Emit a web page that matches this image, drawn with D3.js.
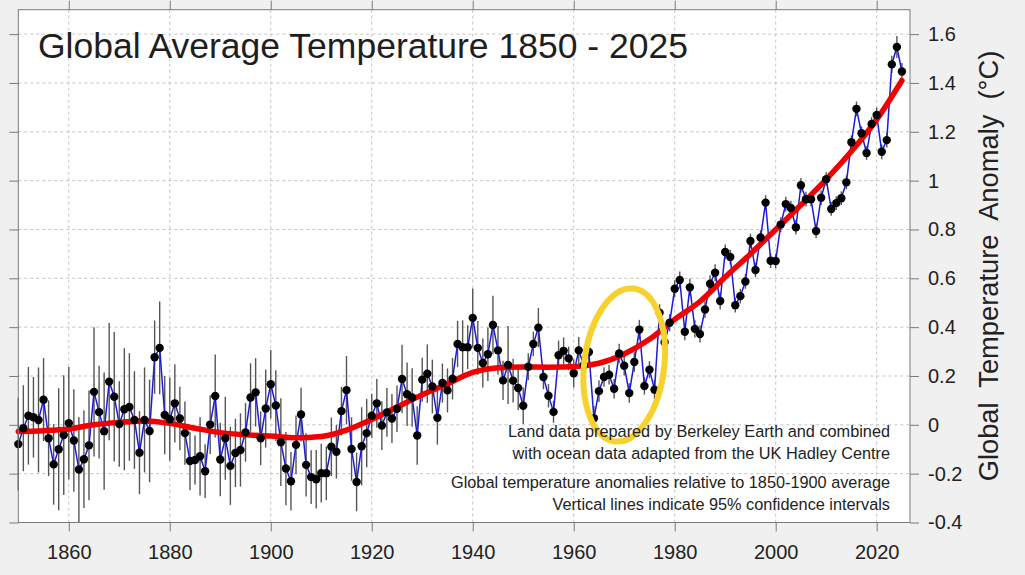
<!DOCTYPE html>
<html>
<head>
<meta charset="utf-8">
<script src="https://cdn.jsdelivr.net/npm/d3@7"></script>
<style>
  body { margin: 0; background: #f0f0f0; }
  svg { display: block; font-family: 'Liberation Sans', Arial, sans-serif; }
</style>
</head>
<body>
<div id="chart"></div>
<script>
// yearly anomalies (°C, relative to 1850-1900)
const startYear = 1850
const anomaly = [
  -0.079, -0.014, 0.037, 0.031, 0.02, 0.103, -0.055, -0.162, -0.1, -0.042,
  0.007, -0.064, -0.183, -0.141, -0.084, 0.135, 0.052, -0.026, 0.177, 0.115,
  0.003, 0.064, 0.073, 0.02, -0.114, 0.02, -0.025, 0.277, 0.315, 0.04,
  0.023, 0.088, 0.026, -0.034, -0.148, -0.144, -0.129, -0.19, 0.001, 0.118,
  -0.142, -0.055, -0.168, -0.115, -0.103, -0.031, 0.112, 0.133, -0.055, 0.067,
  0.166, 0.079, -0.071, -0.179, -0.231, -0.082, 0.042, -0.164, -0.214, -0.223,
  -0.198, -0.198, -0.09, -0.11, 0.056, 0.142, -0.099, -0.234, -0.088, -0.034,
  0.037, 0.088, -0.003, 0.051, 0.026, 0.066, 0.188, 0.125, 0.112, -0.044,
  0.185, 0.209, 0.157, 0.029, 0.171, 0.141, 0.189, 0.331, 0.318, 0.318,
  0.438, 0.315, 0.253, 0.289, 0.409, 0.305, 0.182, 0.245, 0.181, 0.151,
  0.078, 0.238, 0.331, 0.398, 0.196, 0.119, 0.053, 0.285, 0.303, 0.272,
  0.211, 0.305, 0.244, 0.298, 0.027, 0.138, 0.196, 0.205, 0.148, 0.292,
  0.242, 0.13, 0.257, 0.39, 0.159, 0.226, 0.144, 0.459, 0.338, 0.418,
  0.557, 0.593, 0.381, 0.563, 0.393, 0.372, 0.472, 0.578, 0.623, 0.507,
  0.708, 0.687, 0.49, 0.527, 0.587, 0.753, 0.634, 0.767, 0.91, 0.672,
  0.671, 0.82, 0.904, 0.888, 0.809, 0.981, 0.924, 0.924, 0.794, 0.93,
  1.006, 0.884, 0.908, 0.928, 0.993, 1.157, 1.294, 1.194, 1.113, 1.232,
  1.269, 1.118, 1.166, 1.476, 1.547, 1.447
]

// half width of the 95% confidence interval for each year
const uncertainty = [
  0.19, 0.176, 0.2, 0.165, 0.215, 0.17, 0.155, 0.165, 0.25, 0.245,
  0.23, 0.21, 0.215, 0.2, 0.225, 0.265, 0.19, 0.24, 0.24, 0.265,
  0.175, 0.25, 0.22, 0.2, 0.17, 0.215, 0.21, 0.15, 0.19, 0.16,
  0.17, 0.16, 0.13, 0.13, 0.12, 0.1, 0.16, 0.11, 0.12, 0.17,
  0.15, 0.17, 0.16, 0.14, 0.15, 0.12, 0.14, 0.14, 0.11, 0.16,
  0.14, 0.145, 0.18, 0.15, 0.12, 0.12, 0.11, 0.13, 0.11, 0.12,
  0.12, 0.11, 0.12, 0.11, 0.1, 0.14, 0.13, 0.12, 0.16, 0.14,
  0.09, 0.1, 0.1, 0.1, 0.1, 0.095, 0.14, 0.13, 0.12, 0.12,
  0.09, 0.12, 0.11, 0.11, 0.08, 0.09, 0.085, 0.095, 0.11, 0.09,
  0.12, 0.11, 0.1, 0.11, 0.12, 0.1, 0.08, 0.16, 0.09, 0.09,
  0.075, 0.055, 0.05, 0.08, 0.05, 0.048, 0.045, 0.06, 0.055, 0.048,
  0.058, 0.055, 0.045, 0.045, 0.05, 0.045, 0.04, 0.04, 0.04, 0.04,
  0.04, 0.04, 0.04, 0.04, 0.035, 0.035, 0.04, 0.035, 0.035, 0.035,
  0.035, 0.035, 0.035, 0.035, 0.035, 0.035, 0.035, 0.035, 0.035, 0.035,
  0.03, 0.03, 0.03, 0.03, 0.03, 0.03, 0.03, 0.03, 0.03, 0.03,
  0.03, 0.03, 0.03, 0.03, 0.03, 0.03, 0.03, 0.03, 0.03, 0.03,
  0.028, 0.028, 0.028, 0.028, 0.028, 0.028, 0.03, 0.028, 0.028, 0.028,
  0.03, 0.03, 0.03, 0.035, 0.045, 0.035
]

// smoothed trend (red), one value every 5 years from 1850
const smoothYears = d3.range(1850, 2026, 5)
const smoothValues = [
  -0.027, -0.024, -0.017, 0.0, 0.01, 0.016, 0.006, -0.014, -0.032, -0.041,
  -0.046, -0.053, -0.048, -0.022, 0.022, 0.073, 0.123, 0.168, 0.215, 0.234,
  0.237, 0.236, 0.238, 0.252, 0.29, 0.35, 0.432, 0.505, 0.605, 0.7,
  0.8, 0.9, 1.005, 1.12, 1.25, 1.41
]

const xTicks = [1860, 1880, 1900, 1920, 1940, 1960, 1980, 2000, 2020]
const yTicks = [-0.4, -0.2, 0, 0.2, 0.4, 0.6, 0.8, 1, 1.2, 1.4, 1.6]

const title = 'Global Average Temperature 1850 - 2025'
const yLabel = 'Global  Temperature  Anomaly  (°C)'
const notes = [
  'Land data prepared by Berkeley Earth and combined',
  'with ocean data adapted from the UK Hadley Centre',
  'Global temperature anomalies relative to 1850-1900 average',
  'Vertical lines indicate 95% confidence intervals'
]

// highlighted period (yellow ring)
const highlight = { year: 1970, value: 0.245 }

const W = 1025
const H = 575
const margin = { top: 9.7, left: 18.3, right: 115, bottom: 52.5 }
const width = W - margin.left - margin.right
const height = H - margin.top - margin.bottom

const data = anomaly.map((v, i) => ({ year: startYear + i, value: v, err: uncertainty[i] }))
const smooth = smoothYears.map((y, i) => ({ year: y, value: smoothValues[i] }))

const svg = d3
  .select('#chart')
  .append('svg')
  .attr('width', W)
  .attr('height', H)

svg.append('rect').attr('width', W).attr('height', H).attr('fill', '#f0f0f0')

const g = svg
  .append('g')
  .attr('transform', 'translate(' + margin.left + ',' + margin.top + ')')

const x = d3.scaleLinear().domain([1850, 2026.6]).range([0, width])
const y = d3.scaleLinear().domain([-0.4, 1.7]).range([height, 0])

g.append('rect')
  .attr('width', width)
  .attr('height', height)
  .attr('fill', '#ffffff')

// grid
g.append('g')
  .selectAll('line')
  .data(xTicks)
  .enter()
  .append('line')
  .attr('x1', d => x(d))
  .attr('x2', d => x(d))
  .attr('y1', 0)
  .attr('y2', height)
  .attr('stroke', '#c4c4c4')
  .attr('stroke-dasharray', '3,3')

g.append('g')
  .selectAll('line')
  .data(yTicks)
  .enter()
  .append('line')
  .attr('x1', 0)
  .attr('x2', width)
  .attr('y1', d => y(d))
  .attr('y2', d => y(d))
  .attr('stroke', '#c4c4c4')
  .attr('stroke-dasharray', '3,3')

// confidence intervals
g.append('g')
  .selectAll('line')
  .data(data)
  .enter()
  .append('line')
  .attr('x1', d => x(d.year))
  .attr('x2', d => x(d.year))
  .attr('y1', d => y(d.value - d.err))
  .attr('y2', d => y(d.value + d.err))
  .attr('stroke', '#555555')
  .attr('stroke-width', 1.4)

const line = d3.line().x(d => x(d.year)).y(d => y(d.value))

g.append('path')
  .datum(data)
  .attr('d', line)
  .attr('fill', 'none')
  .attr('stroke', '#1a1ad8')
  .attr('stroke-width', 1.5)

g.append('path')
  .datum(smooth)
  .attr('d', line.curve(d3.curveMonotoneX))
  .attr('fill', 'none')
  .attr('stroke', '#f00000')
  .attr('stroke-width', 5.5)
  .attr('stroke-linecap', 'round')

g.append('g')
  .selectAll('circle')
  .data(data)
  .enter()
  .append('circle')
  .attr('cx', d => x(d.year))
  .attr('cy', d => y(d.value))
  .attr('r', 4.2)
  .attr('fill', '#000000')

// axes
const axisColor = '#7a7a7a'

const styleAxis = sel => {
  sel.select('.domain').remove()
  sel.selectAll('line').attr('stroke', axisColor)
  sel.selectAll('text')
    .attr('fill', '#222222')
    .style('font-size', '20px')
    .style('font-family', "'Liberation Sans', Arial, sans-serif")
}

g.append('g')
  .attr('transform', 'translate(0,' + height + ')')
  .call(d3.axisBottom(x).tickValues(xTicks).tickFormat(d3.format('d')).tickSize(9).tickPadding(13))
  .call(styleAxis)

g.append('g')
  .call(d3.axisTop(x).tickValues(xTicks).tickFormat('').tickSize(9))
  .call(styleAxis)

g.append('g')
  .attr('transform', 'translate(' + width + ',0)')
  .call(d3.axisRight(y).tickValues(yTicks).tickFormat(d3.format('~g')).tickSize(9).tickPadding(9))
  .call(styleAxis)
  .selectAll('text')
  .text(d => d3.format('~g')(d).replace('−', '-'))

g.append('g')
  .call(d3.axisLeft(y).tickValues(yTicks).tickFormat('').tickSize(9))
  .call(styleAxis)

g.append('rect')
  .attr('width', width)
  .attr('height', height)
  .attr('fill', 'none')
  .attr('stroke', axisColor)
  .attr('stroke-width', 1)

// texts
svg.append('text')
  .attr('x', 38)
  .attr('y', 58)
  .attr('fill', '#1e1e1e')
  .style('font-size', '35.5px')
  .text(title)

svg.append('g')
  .selectAll('text')
  .data(notes)
  .enter()
  .append('text')
  .attr('x', 890)
  .attr('y', (d, i) => [436.5, 458.5, 487.5, 509.5][i])
  .attr('text-anchor', 'end')
  .attr('fill', '#222222')
  .style('font-size', '16.3px')
  .text(d => d)

svg.append('text')
  .attr('transform', 'translate(998,266) rotate(-90)')
  .attr('text-anchor', 'middle')
  .attr('fill', '#222222')
  .style('font-size', '27.3px')
  .style('white-space', 'pre')
  .text(yLabel)

// yellow ring
g.append('ellipse')
  .attr('cx', x(highlight.year))
  .attr('cy', y(highlight.value))
  .attr('rx', 40)
  .attr('ry', 77)
  .attr('transform', 'rotate(7,' + x(highlight.year) + ',' + y(highlight.value) + ')')
  .attr('fill', 'none')
  .attr('stroke', '#f7d22e')
  .attr('stroke-width', 6)
</script>
</body>
</html>
